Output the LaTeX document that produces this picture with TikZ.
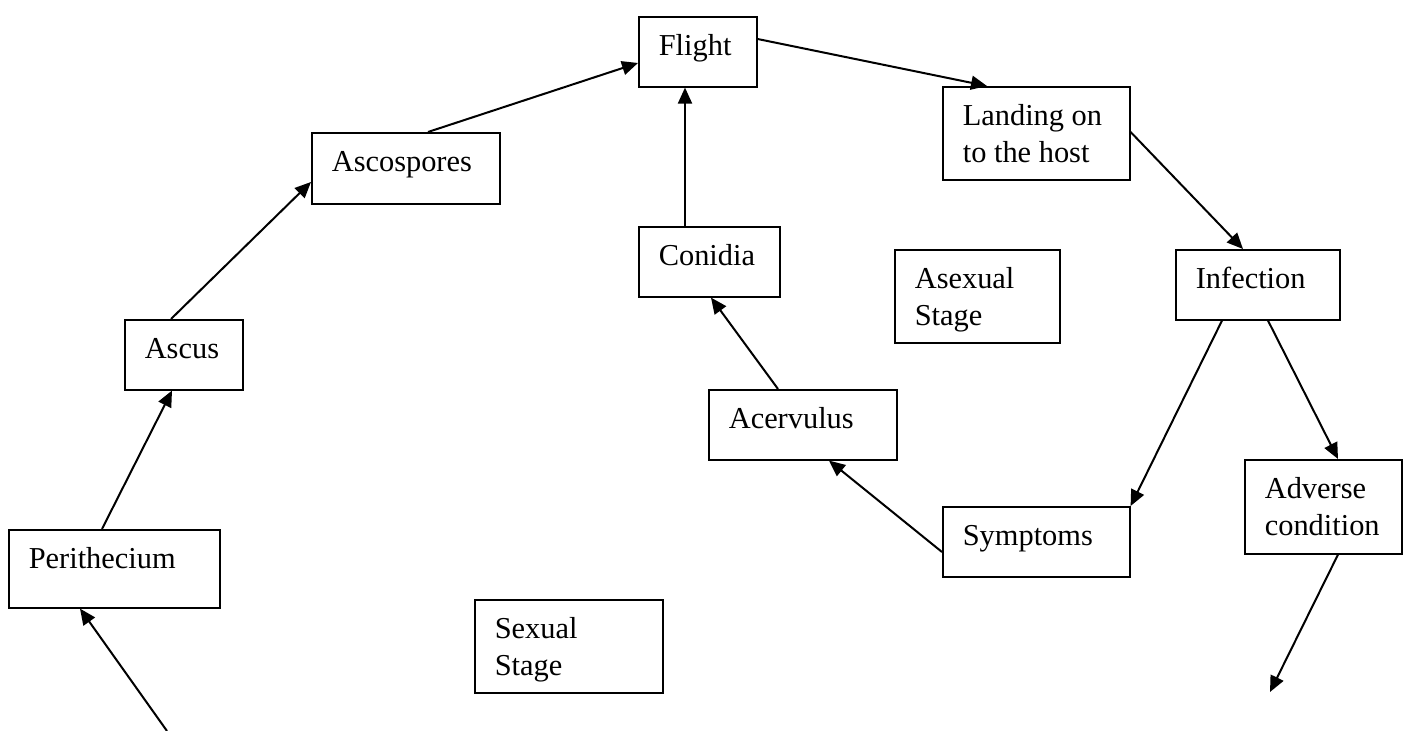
\documentclass[tikz,border=0pt]{standalone}
\usepackage{fontspec}
\setmainfont{Liberation Serif}
\usetikzlibrary{arrows.meta,calc}
\begin{document}
\begin{tikzpicture}[x=0.5pt,y=-0.5pt,
        stage/.style={draw,line width=0.8pt,anchor=north west,align=flush left,inner xsep=10pt,inner ysep=0pt,text height=19.5pt,font=\fontsize{15.2}{18.5}\selectfont},
        flow/.style={line width=1pt,-{Triangle[length=8pt,width=7pt]}}]
                \useasboundingbox (0,0) rectangle (1404,731);

                \node[stage,text width=85.5pt,text depth=19.5pt] (perith) at (8,529) {Perithecium};
                \node[stage,text width=39pt,text depth=15.5pt] (ascus) at (124,319) {Ascus};
                \node[stage,text width=74pt,text depth=16pt] (ascosp) at (311,132) {Ascospores};
                \node[stage,text width=39pt,text depth=15.5pt] (flight) at (638,16) {Flight};
                \node[stage,text width=73.5pt,text depth=27pt] (landing) at (942,86) {Landing on\\to the host};
                \node[stage,text width=62pt,text depth=15.5pt] (infect) at (1175,249) {Infection};
                \node[stage,text width=58.5pt,text depth=27.5pt] (adverse) at (1244,459) {Adverse\\condition};
                \node[stage,text width=73.5pt,text depth=15.5pt] (sympt) at (942,506) {Symptoms};
                \node[stage,text width=74pt,text depth=15.5pt] (acerv) at (708,389) {Acervulus};
                \node[stage,text width=50.5pt,text depth=15.5pt] (conidia) at (638,226) {Conidia};
                \node[stage,text width=62.5pt,text depth=27pt] (asexual) at (894,249) {Asexual\\Stage};
                \node[stage,text width=74pt,text depth=27pt] (sexual) at (474,599) {Sexual\\Stage};
                \coordinate (src) at (167,731);
                \coordinate (sink) at (1270,692);

                \draw[flow] (src) -- ($(perith.south west)+(72,0)$);
                \draw[flow] ($(perith.north west)+(94,0)$) -- ($(ascus.south west)+(48,0)$);
                \draw[flow] ($(ascus.north west)+(47,0)$) -- ($(ascosp.north west)+(0,50)$);
                \draw[flow] ($(ascosp.north west)+(117,0)$) -- ($(flight.north west)+(0,47)$);
                \draw[flow] ($(flight.north east)+(0,23)$) -- ($(landing.north west)+(45,0)$);
                \draw[flow] ($(landing.north east)+(0,46)$) -- ($(infect.north west)+(68,0)$);
                \draw[flow] ($(infect.south west)+(47,0)$) -- (sympt.north east);
                \draw[flow] ($(infect.south west)+(93,0)$) -- ($(adverse.north west)+(94,0)$);
                \draw[flow] ($(adverse.south west)+(94,0)$) -- (sink);
                \draw[flow] ($(sympt.north west)+(0,46)$) -- ($(acerv.south west)+(121,0)$);
                \draw[flow] ($(acerv.north west)+(70,0)$) -- ($(conidia.south west)+(73,0)$);
                \draw[flow] ($(conidia.north west)+(47,0)$) -- ($(flight.south west)+(47,0)$);
            \end{tikzpicture}
\end{document}
